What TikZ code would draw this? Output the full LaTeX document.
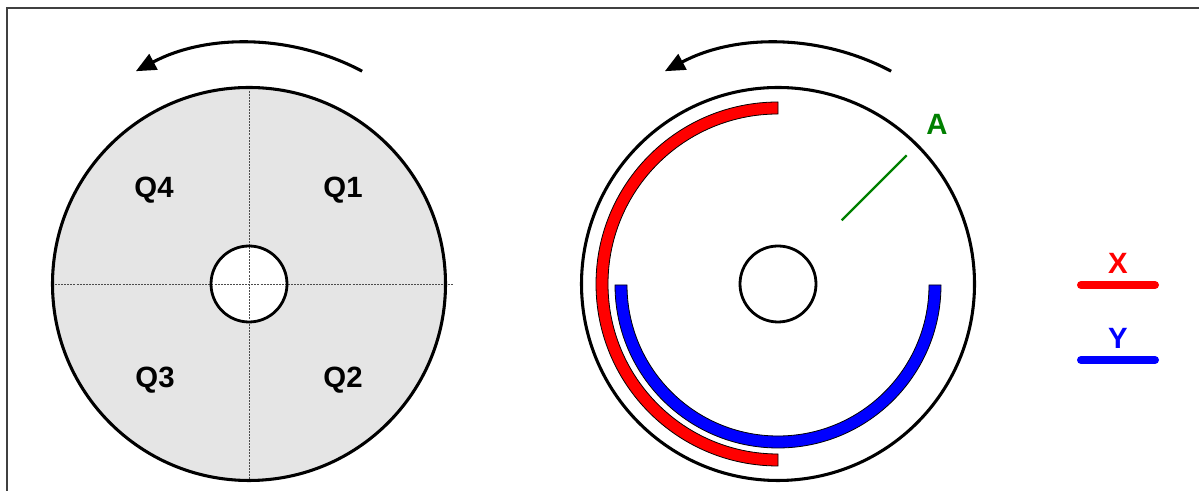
\documentclass[tikz,border=0pt]{standalone}
\usepackage{fontspec}
\setmainfont{Liberation Sans}
\usetikzlibrary{arrows.meta,calc}
\definecolor{diskgray}{HTML}{E5E5E5}
\definecolor{agreen}{HTML}{008000}
\definecolor{framegray}{HTML}{404040}
\begin{document}
\begin{tikzpicture}[x=0.75pt,y=0.75pt,
  disk/.style={draw=black,line width=2.3pt},
  hub/.style={draw=black,line width=2.1pt,fill=white},
  cross/.style={draw=gray!60!black,line width=0.7pt,dash pattern=on 1.5pt off 0.8pt},
  rot/.style={draw=black,line width=2.3pt,-{Triangle[length=15pt,width=13pt]}},
  band/.style={draw=black,line width=0.6pt},
  lbl/.style={font=\fontsize{22}{26}\selectfont\bfseries,inner sep=0pt},
  legline/.style={line width=6pt,line cap=round}]
\useasboundingbox (0,0) rectangle (1199,491);
% frame (top and left edges visible)
\draw[framegray,line width=0.9pt] (7,-20) -- (7,483) -- (1230,483);
% ---------- left disk ----------
\coordinate (L) at (249,207);
\fill[diskgray] (L) circle[radius=196.5];
\fill[white] (L) circle[radius=38];
\draw[cross] (249,403.5) -- (249,10.5);
\draw[cross] (52,207) -- (453,207);
\draw[disk] (L) circle[radius=196.5];
\draw[hub,fill=none] (L) circle[radius=38];
\node[lbl] (q4) at (154,301) {Q4};
\node[lbl] (q1) at (343,301) {Q1};
\node[lbl] (q3) at (155,111) {Q3};
\node[lbl] (q2) at (343,111) {Q2};
\draw[rot] (L) ++(62:241) arc[start angle=62,end angle=118,radius=241];
% ---------- right disk ----------
\coordinate (R) at (778,207);
\coordinate (Rb) at (778,206);
\draw[disk] (R) circle[radius=196.5];
\draw[hub] (R) circle[radius=38];
\draw[rot] (R) ++(62:241) arc[start angle=62,end angle=118,radius=241];
% red band
\draw[band,fill=red] (R) ++(90:182) arc[start angle=90,end angle=270,radius=182]
  -- ++(0,12) arc[start angle=270,end angle=90,radius=170] -- cycle;
% blue band
\draw[band,fill=blue] (Rb) ++(180:163) arc[start angle=180,end angle=360,radius=163]
  -- ++(-12,0) arc[start angle=360,end angle=180,radius=151] -- cycle;
% green marker
\coordinate (g1) at ($(R)+(45:90)$);
\coordinate (g2) at ($(R)+(45:182)$);
\draw[agreen,line width=1.6pt] (g1) -- (g2);
\node[lbl,text=agreen] (a) at (937,367) {A};
% ---------- legend ----------
\node[lbl,text=red] (x) at (1118,228) {X};
\draw[legline,red] (1081,206) -- (1155,206);
\node[lbl,text=blue] (y) at (1118,153) {Y};
\draw[legline,blue] (1081,131) -- (1155,131);
\end{tikzpicture}
\end{document}
